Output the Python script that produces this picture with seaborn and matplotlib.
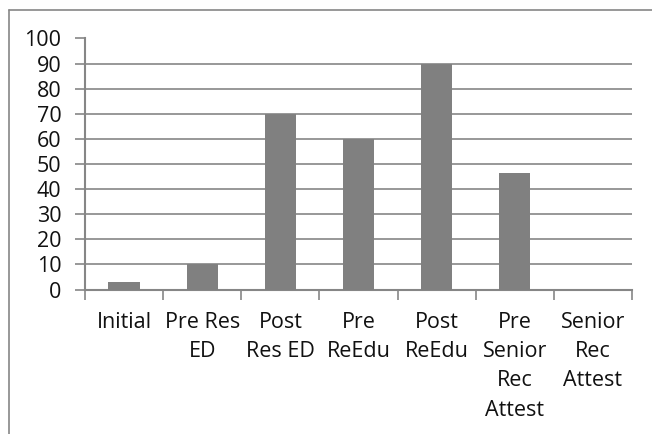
import matplotlib
matplotlib.use("Agg")
import matplotlib.pyplot as plt
import seaborn as sns
import pandas as pd
from matplotlib.lines import Line2D
from matplotlib.ticker import FixedLocator

categories = ["Initial", "Pre Res ED", "Post Res ED", "Pre ReEdu", "Post ReEdu",
              "Pre Senior Rec Attest", "Senior Rec Attest"]
tick_labels = ["Initial", "Pre Res\nED", "Post\nRes ED", "Pre\nReEdu", "Post\nReEdu",
               "Pre\nSenior\nRec\nAttest", "Senior\nRec\nAttest"]
values = [3, 10, 70, 60, 90, 46.5, 0]
y_ticks = [0, 10, 20, 30, 40, 50, 60, 70, 80, 90, 100]

sns.set_theme(style="white")
plt.rcParams["font.family"] = ["Open Sans", "DejaVu Sans"]

df = pd.DataFrame({"cat": categories, "val": values})

fig = plt.figure(figsize=(6.52, 4.34), dpi=100)
ax = fig.add_axes([85/652, 144.5/434, (632-85)/652, (289.5-38.5)/434])

sns.barplot(data=df, x="cat", y="val", ax=ax, color="#808080", saturation=1,
            width=0.4, edgecolor="none", zorder=3)

grid_c = "#868686"
ax.set_ylim(0, 100)
ax.set_xlim(-0.5, len(categories) - 0.5)
ax.set_yticks(y_ticks)
ax.set_yticklabels([str(v) for v in y_ticks])
ax.yaxis.grid(True, color=grid_c, linewidth=1.2, zorder=0)
ax.set_axisbelow(True)
for s in ["top", "right"]:
    ax.spines[s].set_visible(False)
for s in ["left", "bottom"]:
    ax.spines[s].set_color(grid_c)
    ax.spines[s].set_linewidth(1.5)

ax.set_xticks(range(len(categories)))
ax.set_xticklabels(tick_labels, linespacing=1.52)
ax.xaxis.set_minor_locator(FixedLocator([i - 0.5 for i in range(len(categories) + 1)]))
ax.tick_params(axis="x", which="major", length=0, pad=16, labelsize=15.5, colors="#111111")
ax.tick_params(axis="x", which="minor", length=7, width=1.2, color=grid_c, bottom=True)
ax.tick_params(axis="y", which="major", length=7, width=1.2, color=grid_c, pad=10,
               labelsize=15.5, left=True, labelcolor="#111111")
ax.set_xlabel("")
ax.set_ylabel("")

# outer chart border (top and left visible)
fig.add_artist(Line2D([9/652, 1], [1 - 9.5/434, 1 - 9.5/434], transform=fig.transFigure,
                      color="#868686", linewidth=1.2))
fig.add_artist(Line2D([9/652, 9/652], [0, 1 - 9.5/434], transform=fig.transFigure,
                      color="#868686", linewidth=1.2))

fig.savefig("out.png", dpi=100, facecolor="white")
